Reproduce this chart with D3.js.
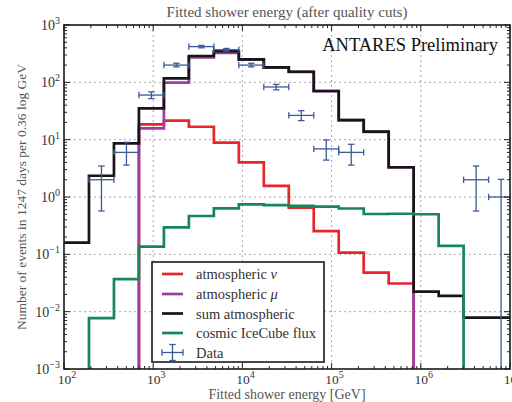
<!DOCTYPE html>
<html>
<head>
<meta charset="utf-8">
<script src="https://cdn.jsdelivr.net/npm/d3@7"></script>
<style>
  body { margin: 0; background: #fff; }
  text { font-family: "Liberation Serif", "DejaVu Serif", serif; }
</style>
</head>
<body>
<svg id="chart"></svg>
<script>
const chartSize = { width: 512, height: 402 };
const plot = { left: 64, right: 510, top: 25, bottom: 369 };

// bin edges, log10(E / GeV)
const binEdges = [2.0, 2.28, 2.56, 2.84, 3.12, 3.4, 3.68, 3.96, 4.24, 4.52, 4.8, 5.08, 5.36, 5.64, 5.92, 6.2, 6.48, 6.76, 7.04];

const atmNu = [0, 0, 0, 18.5, 21.4, 16.8, 8.85, 4.03, 1.56, 0.65, 0.255, 0.107, 0.048, 0.031, 0, 0, 0, 0];
const atmMu = [0, 0, 0, 15.8, 98.6, 273, 325, 248, 181, 152, 70, 22, 13.7, 3.27, 0, 0, 0, 0];
const sumAtm = [0.16, 2.35, 8.6, 35, 117, 288, 350, 252, 183, 153, 70.6, 22, 13.8, 3.3, 0.0223, 0.0188, 0.0079, 0.0079];
const cosmic = [0, 0.0077, 0.037, 0.136, 0.296, 0.466, 0.634, 0.745, 0.72, 0.7, 0.68, 0.63, 0.505, 0.51, 0.5, 0.14, 0, 0];

// data points (bin index, value, lower, upper)
const dataBins = [1, 2, 3, 4, 5, 6, 7, 8, 9, 10, 11, 16, 17];
const dataVal = [2.0, 6.0, 60, 200, 420, 370, 200, 83, 26.5, 6.9, 6.0, 2.0, 1.0];
const dataLo = [0.57, 3.6, 52, 186, 400, 350, 186, 74, 21.5, 4.4, 3.6, 0.57, 0];
const dataHi = [3.47, 9.0, 68, 215, 440, 390, 215, 92, 32, 9.9, 8.3, 3.47, 2.03];

const xMajor = [1e2, 1e3, 1e4, 1e5, 1e6, 1e7];
const yMajor = [1e-3, 1e-2, 1e-1, 1e0, 1e1, 1e2, 1e3];

const series = [
  { name: "atmospheric ", sym: "ν", values: atmNu, color: "#e6262b" },
  { name: "atmospheric ", sym: "μ", values: atmMu, color: "#9a3f9e" },
  { name: "sum atmospheric", sym: "", values: sumAtm, color: "#161616" },
  { name: "cosmic IceCube flux", sym: "", values: cosmic, color: "#17875a" }
];
const dataColor = "#3b5b98";

const x = d3.scaleLog().domain([1e2, 1e7]).range([plot.left, plot.right]);
const y = d3.scaleLog().domain([1e-3, 1e3]).range([plot.bottom, plot.top]);
const floor = 1e-5;

const svg = d3.select("#chart")
  .attr("width", chartSize.width)
  .attr("height", chartSize.height);

svg.append("defs").append("clipPath").attr("id", "clip")
  .append("rect")
  .attr("x", plot.left).attr("y", plot.top)
  .attr("width", plot.right - plot.left)
  .attr("height", plot.bottom - plot.top);

// grid
const grid = svg.append("g").attr("class", "grid")
  .attr("stroke", "#a8a8a8").attr("stroke-width", 1).attr("stroke-dasharray", "2,3");
xMajor.slice(1, -1).forEach(v => {
  grid.append("line").attr("x1", x(v)).attr("x2", x(v))
    .attr("y1", plot.top).attr("y2", plot.bottom);
});
yMajor.slice(1, -1).forEach(v => {
  grid.append("line").attr("y1", y(v)).attr("y2", y(v))
    .attr("x1", plot.left).attr("x2", plot.right);
});

// histograms
const stepPoints = vals => {
  const pts = [];
  vals.forEach((v, i) => {
    pts.push([binEdges[i], v]);
    pts.push([binEdges[i + 1], v]);
  });
  return pts;
};
const line = d3.line()
  .x(p => x(Math.pow(10, p[0])))
  .y(p => y(Math.max(p[1], floor)));

const hist = svg.append("g").attr("clip-path", "url(#clip)");
series.forEach(s => {
  hist.append("path")
    .attr("d", line(stepPoints(s.values)))
    .attr("fill", "none")
    .attr("stroke", s.color)
    .attr("stroke-width", 2.7)
    .attr("stroke-linejoin", "miter");
});

// data with error bars
const binCenter = i => Math.pow(10, (binEdges[i] + binEdges[i + 1]) / 2);
const data = hist.append("g").attr("stroke", dataColor).attr("stroke-width", 1.3).attr("fill", "none");
const cap = 3.2;
dataBins.forEach((b, i) => {
  const cx = x(binCenter(b));
  const cy = y(dataVal[i]);
  const xl = x(Math.pow(10, binEdges[b]));
  const xr = x(Math.pow(10, binEdges[b + 1]));
  const yl = y(Math.max(dataLo[i], floor));
  const yh = y(dataHi[i]);
  data.append("line").attr("x1", xl).attr("x2", xr).attr("y1", cy).attr("y2", cy);
  data.append("line").attr("x1", cx).attr("x2", cx).attr("y1", yl).attr("y2", yh);
  data.append("line").attr("x1", xl).attr("x2", xl).attr("y1", cy - cap).attr("y2", cy + cap);
  data.append("line").attr("x1", xr).attr("x2", xr).attr("y1", cy - cap).attr("y2", cy + cap);
  data.append("line").attr("x1", cx - cap).attr("x2", cx + cap).attr("y1", yh).attr("y2", yh);
  data.append("line").attr("x1", cx - cap).attr("x2", cx + cap).attr("y1", yl).attr("y2", yl);
});

// axes: ticks inward on all four sides
const minorX = x.ticks().filter(v => !xMajor.includes(v));
const minorY = y.ticks().filter(v => !yMajor.some(m => Math.abs(m - v) / m < 1e-6));

const tickLines = (g, vals, scale, horiz, size) => {
  vals.forEach(v => {
    const p = scale(v);
    if (horiz) {
      g.append("line").attr("x1", p).attr("x2", p).attr("y1", plot.bottom).attr("y2", plot.bottom - size);
      g.append("line").attr("x1", p).attr("x2", p).attr("y1", plot.top).attr("y2", plot.top + size);
    } else {
      g.append("line").attr("y1", p).attr("y2", p).attr("x1", plot.left).attr("x2", plot.left + size);
      g.append("line").attr("y1", p).attr("y2", p).attr("x1", plot.right).attr("x2", plot.right - size);
    }
  });
};
const ticks = svg.append("g").attr("stroke", "#222").attr("stroke-width", 1);
tickLines(ticks, xMajor, x, true, 6);
tickLines(ticks, minorX, x, true, 3);
tickLines(ticks, yMajor, y, false, 6);
tickLines(ticks, minorY, y, false, 3);

svg.append("rect")
  .attr("x", plot.left).attr("y", plot.top)
  .attr("width", plot.right - plot.left)
  .attr("height", plot.bottom - plot.top)
  .attr("fill", "none").attr("stroke", "#1a1a1a").attr("stroke-width", 1.6);

const expLabel = (sel, v) => {
  const e = Math.round(Math.log10(v));
  sel.append("tspan").text("10");
  sel.append("tspan").attr("dy", -6).attr("font-size", 10)
    .text(e < 0 ? "\u2212" + (-e) : e);
};

xMajor.forEach(v => {
  svg.append("text")
    .attr("x", x(v) + 3).attr("y", 384)
    .attr("text-anchor", "middle").attr("font-size", 13.5).attr("fill", "#333")
    .call(expLabel, v);
});
yMajor.forEach(v => {
  svg.append("text")
    .attr("x", 60).attr("y", y(v) + 5)
    .attr("text-anchor", "end").attr("font-size", 14).attr("fill", "#333")
    .call(expLabel, v);
});

// titles
svg.append("text")
  .attr("x", (plot.left + plot.right) / 2).attr("y", 17)
  .attr("text-anchor", "middle").attr("font-size", 15).attr("fill", "#555")
  .text("Fitted shower energy (after quality cuts)");

svg.append("text")
  .attr("x", (plot.left + plot.right) / 2).attr("y", 398.5)
  .attr("text-anchor", "middle").attr("font-size", 14).attr("fill", "#555")
  .text("Fitted shower energy [GeV]");

svg.append("text")
  .attr("transform", `translate(26,${(plot.top + plot.bottom) / 2}) rotate(-90)`)
  .attr("text-anchor", "middle").attr("font-size", 13.5).attr("fill", "#555")
  .text("Number of events in 1247 days per 0.36 log GeV");

svg.append("text")
  .attr("x", 498).attr("y", 51)
  .attr("text-anchor", "end").attr("font-size", 18.5).attr("fill", "#111")
  .text("ANTARES Preliminary");

// legend
const legend = svg.append("g");
legend.append("rect")
  .attr("x", 152).attr("y", 262).attr("width", 172).attr("height", 100)
  .attr("fill", "#fff").attr("stroke", "#1a1a1a").attr("stroke-width", 1.6);
const rowY = [274, 294, 313.5, 333, 352.5];
series.forEach((s, i) => {
  legend.append("line")
    .attr("x1", 162).attr("x2", 183).attr("y1", rowY[i]).attr("y2", rowY[i])
    .attr("stroke", s.color).attr("stroke-width", 2.7);
  const t = legend.append("text")
    .attr("x", 196).attr("y", rowY[i] + 5)
    .attr("font-size", 14.5).attr("fill", "#333");
  t.append("tspan").text(s.name);
  if (s.sym) t.append("tspan").attr("font-style", "italic").text(s.sym);
});
const lg = legend.append("g").attr("stroke", dataColor).attr("stroke-width", 1.3);
const ly = rowY[4];
lg.append("line").attr("x1", 162).attr("x2", 183).attr("y1", ly).attr("y2", ly);
lg.append("line").attr("x1", 172.5).attr("x2", 172.5).attr("y1", ly - 8).attr("y2", ly + 8);
lg.append("line").attr("x1", 162).attr("x2", 162).attr("y1", ly - cap).attr("y2", ly + cap);
lg.append("line").attr("x1", 183).attr("x2", 183).attr("y1", ly - cap).attr("y2", ly + cap);
lg.append("line").attr("x1", 172.5 - cap).attr("x2", 172.5 + cap).attr("y1", ly - 8).attr("y2", ly - 8);
lg.append("line").attr("x1", 172.5 - cap).attr("x2", 172.5 + cap).attr("y1", ly + 8).attr("y2", ly + 8);
legend.append("text")
  .attr("x", 196).attr("y", ly + 5)
  .attr("font-size", 14.5).attr("fill", "#333")
  .text("Data");
</script>
</body>
</html>
